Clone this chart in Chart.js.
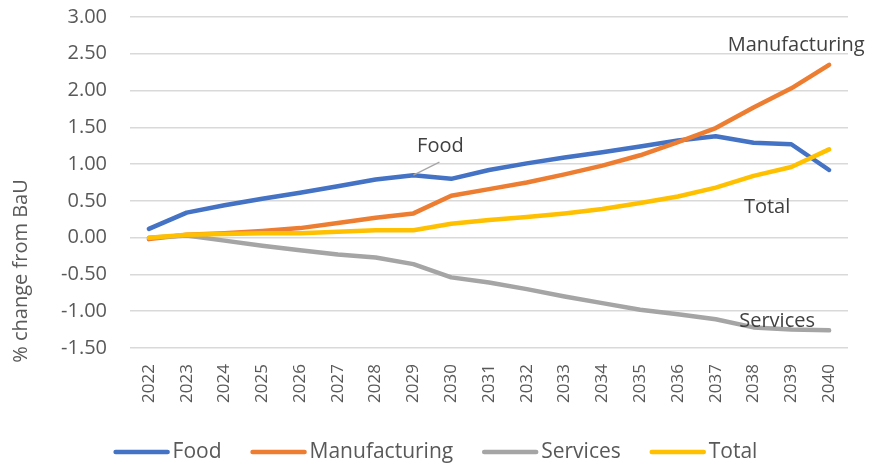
<!DOCTYPE html>
<html>
<head>
<meta charset="utf-8">
<script src="https://cdn.jsdelivr.net/npm/chart.js@4/dist/chart.umd.min.js"></script>
<style>
  html, body { margin: 0; padding: 0; background: #ffffff; }
  #wrap { width: 871px; height: 463px; position: relative; }
</style>
</head>
<body>
<div id="wrap"><canvas id="c"></canvas></div>
<script>
const years = ["2022","2023","2024","2025","2026","2027","2028","2029","2030","2031","2032","2033","2034","2035","2036","2037","2038","2039","2040"];
const food = [0.12,0.34,0.44,0.53,0.61,0.70,0.79,0.85,0.80,0.92,1.01,1.09,1.16,1.24,1.32,1.38,1.29,1.27,0.92];
const manufacturing = [-0.02,0.04,0.06,0.09,0.13,0.20,0.27,0.33,0.57,0.66,0.75,0.86,0.98,1.12,1.30,1.49,1.77,2.03,2.35];
const services = [0.00,0.03,-0.04,-0.11,-0.17,-0.23,-0.27,-0.36,-0.54,-0.61,-0.70,-0.80,-0.89,-0.98,-1.04,-1.11,-1.22,-1.25,-1.26];
const total = [0.00,0.04,0.05,0.06,0.06,0.08,0.10,0.10,0.19,0.24,0.28,0.33,0.39,0.47,0.56,0.68,0.84,0.96,1.20];
const seriesNames = ["Food","Manufacturing","Services","Total"];
const seriesColors = ["#4472C4","#ED7D31","#A5A5A5","#FFC000"];
const yAxisTitle = "% change from BaU";
const yMin = -1.5, yMax = 3.0, yStep = 0.5;

const FONT = "'Open Sans', 'Liberation Sans', sans-serif";

function ds(i, data, order) {
  return {
    label: seriesNames[i],
    data: data,
    borderColor: seriesColors[i],
    backgroundColor: seriesColors[i],
    borderWidth: 4.5,
    borderCapStyle: 'round',
    borderJoinStyle: 'round',
    pointRadius: 0,
    pointHoverRadius: 0,
    tension: 0,
    fill: false,
    order: order
  };
}

const extras = {
  id: 'extras',
  afterDraw(chart) {
    const ctx = chart.ctx;
    const xs = chart.scales.x, ys = chart.scales.y;
    ctx.save();
    // y-axis title
    ctx.fillStyle = '#595959';
    ctx.font = "20px " + FONT;
    ctx.textAlign = 'center';
    ctx.textBaseline = 'middle';
    ctx.translate(21, 271);
    ctx.rotate(-Math.PI / 2);
    ctx.fillText(yAxisTitle, 0, 0);
    ctx.restore();

    // data labels (series names near points)
    ctx.save();
    ctx.fillStyle = '#404040';
    ctx.font = "20px " + FONT;
    ctx.textAlign = 'center';
    ctx.textBaseline = 'middle';
    const last = years.length - 1;
    const fx = xs.getPixelForValue(7), fy = ys.getPixelForValue(food[7]);
    ctx.strokeStyle = '#A6A6A6';
    ctx.lineWidth = 1.2;
    ctx.beginPath();
    ctx.moveTo(fx, fy);
    ctx.lineTo(fx + 26, fy - 13);
    ctx.stroke();
    ctx.fillText(seriesNames[0], fx + 27, fy - 29);
    const mx = xs.getPixelForValue(last), my = ys.getPixelForValue(manufacturing[last]);
    ctx.fillText(seriesNames[1], mx - 33, my - 20);
    const sx = xs.getPixelForValue(last), sy = ys.getPixelForValue(services[last]);
    ctx.fillText(seriesNames[2], sx - 52, sy - 9);
    const tx = xs.getPixelForValue(last), ty = ys.getPixelForValue(total[last]);
    ctx.fillText(seriesNames[3], tx - 62, ty + 58);
    ctx.restore();

    // legend
    ctx.save();
    ctx.font = "21px " + FONT;
    ctx.textBaseline = 'middle';
    ctx.textAlign = 'left';
    const lineLen = 56, gapText = 3, gapItem = 29;
    const items = chart.data.datasets.map(d => ({ label: d.label, color: d.borderColor, w: ctx.measureText(d.label).width }));
    let totalW = 0;
    items.forEach((it, i) => { totalW += lineLen + gapText + it.w + (i < items.length - 1 ? gapItem : 0); });
    let x = chart.width / 2 - totalW / 2;
    const ly = 452;
    items.forEach(it => {
      ctx.strokeStyle = it.color;
      ctx.lineWidth = 4.5;
      ctx.lineCap = 'round';
      ctx.beginPath();
      ctx.moveTo(x + 2, ly);
      ctx.lineTo(x + lineLen - 2, ly);
      ctx.stroke();
      ctx.fillStyle = '#595959';
      ctx.fillText(it.label, x + lineLen + gapText, ly);
      x += lineLen + gapText + it.w + gapItem;
    });
    ctx.restore();
  }
};

new Chart(document.getElementById('c'), {
  type: 'line',
  data: {
    labels: years,
    datasets: [
      ds(0, food, 4),
      ds(1, manufacturing, 3),
      ds(2, services, 2),
      ds(3, total, 1)
    ]
  },
  options: {
    responsive: true,
    maintainAspectRatio: false,
    animation: false,
    events: [],
    layout: { padding: { top: 17, right: 23, bottom: 0, left: 0 } },
    plugins: {
      legend: { display: false },
      tooltip: { enabled: false },
      title: { display: false }
    },
    scales: {
      x: {
        offset: true,
        grid: { display: false, drawTicks: false },
        border: { display: false },
        ticks: {
          color: '#595959',
          font: { family: FONT, size: 17 },
          minRotation: 90,
          maxRotation: 90,
          padding: 16,
          autoSkip: false
        },
        afterFit(scale) { scale.height = 115; scale.paddingLeft = 0; scale.paddingRight = 0; }
      },
      y: {
        min: yMin,
        max: yMax,
        grid: { color: '#D9D9D9', lineWidth: 1.5, drawTicks: false },
        border: { display: false },
        ticks: {
          stepSize: yStep,
          color: '#595959',
          font: { family: FONT, size: 20 },
          padding: 23,
          callback: v => Number(v).toFixed(2)
        },
        afterFit(scale) { scale.width = 130; scale.paddingTop = 0; scale.paddingBottom = 0; }
      }
    }
  },
  plugins: [extras]
});
</script>
</body>
</html>
